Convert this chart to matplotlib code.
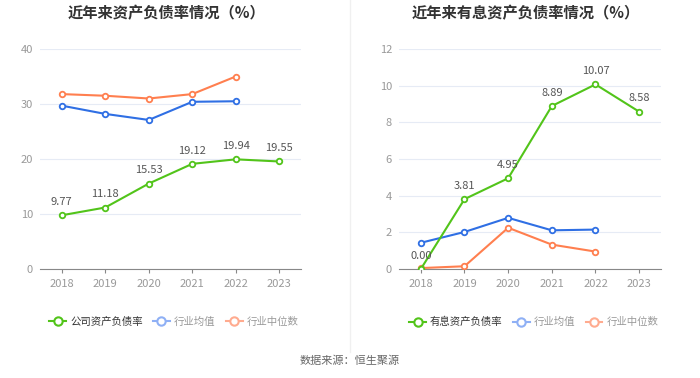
import matplotlib
matplotlib.use("Agg")
import matplotlib.pyplot as plt
from matplotlib.lines import Line2D

plt.rcParams['font.family'] = ['Noto Sans CJK SC', 'DejaVu Sans']

years = ['2018', '2019', '2020', '2021', '2022', '2023']

# left chart: asset-liability ratio
company_debt = [9.77, 11.18, 15.53, 19.12, 19.94, 19.55]
industry_mean_debt = [29.7, 28.2, 27.1, 30.4, 30.5]
industry_median_debt = [31.8, 31.5, 31.0, 31.8, 35.0]

# right chart: interest-bearing debt ratio
company_int = [0.00, 3.81, 4.95, 8.89, 10.07, 8.58]
industry_mean_int = [1.43, 2.02, 2.79, 2.11, 2.15]
industry_median_int = [0.05, 0.15, 2.25, 1.33, 0.95]

GREEN = '#52c41a'
BLUE = '#2f6fe4'
ORANGE = '#ff7f4f'
BLUE_L = '#8fb0f5'
ORANGE_L = '#ffab8f'

fig = plt.figure(figsize=(7, 3.78), dpi=100)
ax1 = fig.add_axes([40 / 700, 1 - 269 / 378, 261 / 700, 220 / 378])
ax2 = fig.add_axes([399 / 700, 1 - 269 / 378, 262 / 700, 220 / 378])


def draw(ax, comp, mean, med, ymax, step, title, cx):
    x = list(range(len(years)))
    ax.plot(x[:len(med)], med, color=ORANGE, lw=1.5, marker='o', ms=4,
            mfc='white', mew=1.3, zorder=3)
    ax.plot(x[:len(mean)], mean, color=BLUE, lw=1.5, marker='o', ms=4,
            mfc='white', mew=1.3, zorder=3)
    ax.plot(x, comp, color=GREEN, lw=1.5, marker='o', ms=4,
            mfc='white', mew=1.3, zorder=4)
    for xi, v in zip(x, comp):
        ax.annotate(f'{v:.2f}', (xi, v), xytext=(0, 6), textcoords='offset points',
                    ha='center', va='bottom', fontsize=8, color='#555555', zorder=5)
    ax.set_xlim(-0.5, len(years) - 0.5)
    ax.set_ylim(0, ymax)
    ax.set_yticks(range(0, ymax + 1, step))
    ax.set_xticks(x)
    ax.set_xticklabels(years)
    ax.grid(axis='y', color='#e6ebf5', lw=0.8)
    ax.set_axisbelow(True)
    for s in ['top', 'right', 'left']:
        ax.spines[s].set_visible(False)
    ax.spines['bottom'].set_color('#888888')
    ax.tick_params(axis='y', length=0, labelsize=8, labelcolor='#999999', pad=5)
    ax.tick_params(axis='x', length=3, color='#888888', labelsize=8,
                   labelcolor='#999999', pad=4)
    fig.text(cx / 700, 1 - 13 / 378, title, ha='center', va='center',
             fontsize=11, fontweight='bold', color='#333333')


draw(ax1, company_debt, industry_mean_debt, industry_median_debt, 40, 10,
     '近年来资产负债率情况（%）', 166)
draw(ax2, company_int, industry_mean_int, industry_median_int, 12, 2,
     '近年来有息资产负债率情况（%）', 526)


def legend(x0, first_label):
    items = [(GREEN, first_label, '#333333'), (BLUE_L, '行业均值', '#999999'),
             (ORANGE_L, '行业中位数', '#999999')]
    handles = [Line2D([0], [0], color=c, lw=1.5, marker='o', ms=6, mfc='white', mew=1.5)
               for c, _, _ in items]
    leg = fig.legend(handles, [l for _, l, _ in items], loc='center left',
                     bbox_to_anchor=(x0 / 700, 1 - 322 / 378), ncol=3, frameon=False,
                     fontsize=7.5, handlelength=1.6, handletextpad=0.4,
                     columnspacing=1.0, borderpad=0)
    for t, (_, _, tc) in zip(leg.get_texts(), items):
        t.set_color(tc)


legend(44, '公司资产负债率')
legend(404, '有息资产负债率')

fig.add_artist(Line2D([350 / 700, 350 / 700], [1 - 352 / 378, 1.0],
                      color='#f0f0f0', lw=1))

fig.text(0.5, 1 - 361 / 378, '数据来源：恒生聚源', ha='center', va='center',
         fontsize=8, color='#666666')

fig.savefig('out.png', dpi=100)
